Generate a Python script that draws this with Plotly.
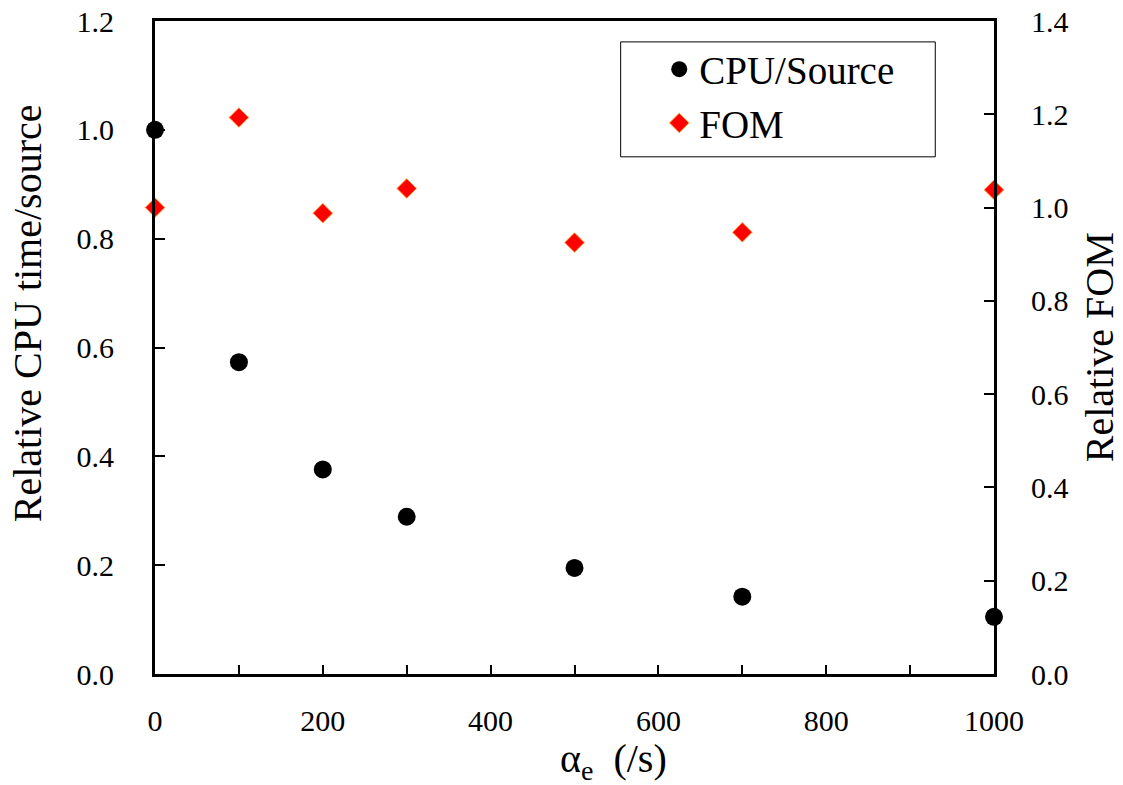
import plotly.graph_objects as go

alpha = [0, 100, 200, 300, 500, 700, 1000]
cpu_per_source = [1.0, 0.573, 0.376, 0.289, 0.195, 0.142, 0.105]
fom = [1.0, 1.193, 0.988, 1.041, 0.925, 0.947, 1.038]

x_tickvals = [0, 100, 200, 300, 400, 500, 600, 700, 800, 900, 1000]
x_ticktext = ["0", " ", "200", " ", "400", " ", "600", " ", "800", " ", "1000"]
y1_tickvals = [0.0, 0.2, 0.4, 0.6, 0.8, 1.0, 1.2]
y2_tickvals = [0.0, 0.2, 0.4, 0.6, 0.8, 1.0, 1.2, 1.4]

x_title = "α<sub>e</sub>  (/s)"
y1_title = "Relative CPU time/source"
y2_title = "Relative FOM"

FONT = "Times New Roman, Liberation Serif, Times, DejaVu Serif, serif"

fig = go.Figure()
fig.add_trace(go.Scatter(
    x=alpha, y=cpu_per_source, mode="markers", name="CPU/Source",
    marker=dict(symbol="circle", size=18, color="black"),
    cliponaxis=False,
))
fig.add_trace(go.Scatter(
    x=alpha, y=fom, mode="markers", name="FOM", yaxis="y2",
    marker=dict(symbol="diamond", size=15, color="#FF0000",
                line=dict(color="#FF9933", width=1)),
    cliponaxis=False,
))

fig.update_layout(
    width=1123, height=785,
    margin=dict(l=155, r=129, t=21, b=111),
    paper_bgcolor="white", plot_bgcolor="white",
    font=dict(family=FONT, size=30, color="black"),
    showlegend=True,
    legend=dict(
        x=0.601, y=0.975, xanchor="left", yanchor="top",
        bgcolor="rgba(0,0,0,0)", borderwidth=0,
        font=dict(family=FONT, size=39, color="black"),
        itemwidth=30, tracegroupgap=0,
    ),
    xaxis=dict(
        range=[0, 1000], tickvals=x_tickvals, ticktext=x_ticktext,
        ticks="inside", ticklen=9, tickwidth=2, tickcolor="black",
        showline=True, linewidth=3, linecolor="black", mirror=True,
        showgrid=False, zeroline=False, automargin=False,
        ticklabelstandoff=18,
        tickfont=dict(family=FONT, size=30),
    ),
    yaxis=dict(
        range=[0, 1.2], tickvals=y1_tickvals, tickformat=".1f",
        ticks="inside", ticklen=10, tickwidth=2, tickcolor="black",
        showline=True, linewidth=3, linecolor="black",
        showgrid=False, zeroline=False, automargin=False,
        ticklabelstandoff=32,
        tickfont=dict(family=FONT, size=30),
    ),
    yaxis2=dict(
        range=[0, 1.4], tickvals=y2_tickvals, tickformat=".1f",
        overlaying="y", side="right",
        ticks="inside", ticklen=10, tickwidth=2, tickcolor="black",
        showline=True, linewidth=3, linecolor="black",
        showgrid=False, zeroline=False, automargin=False,
        ticklabelstandoff=28,
        tickfont=dict(family=FONT, size=30),
    ),
    shapes=[dict(
        type="rect", xref="paper", yref="paper",
        x0=0.555, x1=0.93, y0=0.792, y1=0.968,
        line=dict(color="black", width=1), fillcolor="rgba(0,0,0,0)",
        layer="below",
    )],
    annotations=[
        dict(text=x_title, xref="paper", yref="paper", x=0.546, y=-0.133,
             xanchor="center", yanchor="middle", showarrow=False,
             font=dict(family=FONT, size=40)),
        dict(text=y1_title, xref="paper", yref="paper", x=-0.151, y=0.553,
             xanchor="center", yanchor="middle", showarrow=False, textangle=-90,
             font=dict(family=FONT, size=40)),
        dict(text=y2_title, xref="paper", yref="paper", x=1.126, y=0.5,
             xanchor="center", yanchor="middle", showarrow=False, textangle=-90,
             font=dict(family=FONT, size=40)),
    ],
)

fig.write_html("out.html")
